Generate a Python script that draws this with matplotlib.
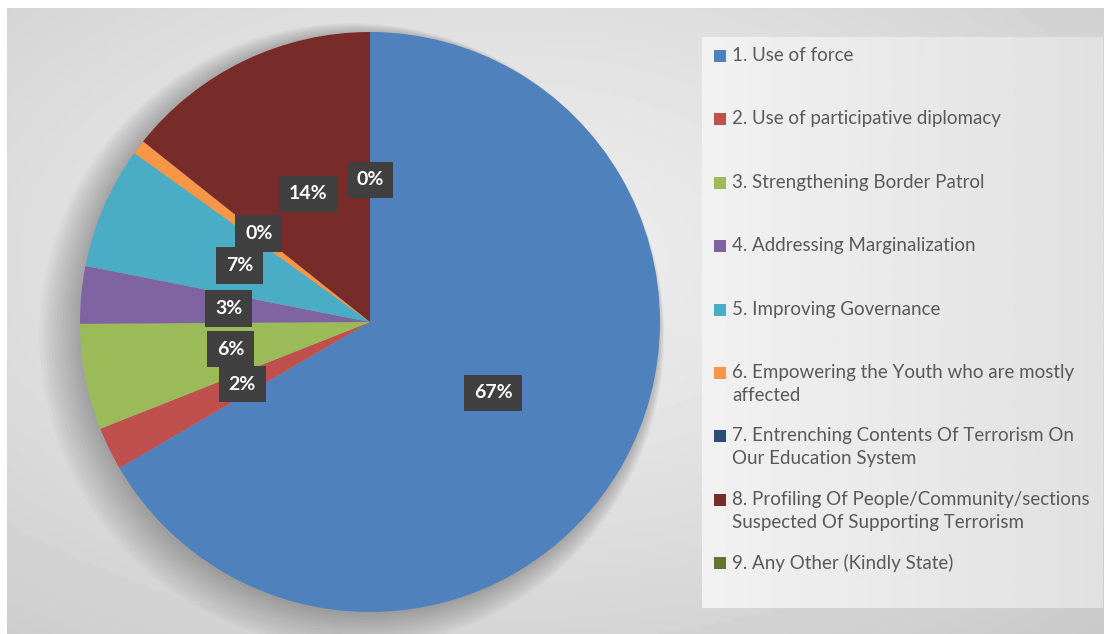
import numpy as np
import matplotlib.pyplot as plt
from matplotlib.patches import Rectangle, Circle

# 各选项所占百分比
categories = [
    '1. Use of force',
    '2. Use of participative diplomacy',
    '3. Strengthening Border Patrol',
    '4. Addressing Marginalization',
    '5. Improving Governance',
    '6. Empowering the Youth who are mostly\naffected',
    '7. Entrenching Contents Of Terrorism On\nOur Education System',
    '8. Profiling Of People/Community/sections\nSuspected Of Supporting Terrorism',
    '9. Any Other (Kindly State)',
]
values = [66.6, 2.4, 5.9, 3.2, 6.8, 0.8, 0.0, 14.3, 0.0]
colors = ['#4F81BD', '#C0504D', '#9BBB59', '#8064A2', '#4BACC6',
          '#F79646', '#2C4D75', '#772C2A', '#5F7530']
# 原图中被遮住的标签
hidden_labels = [5]

W, H = 1108, 634
plt.rcParams['font.family'] = ['Lato', 'DejaVu Sans']

fig = plt.figure(figsize=(W / 100, H / 100), dpi=100)
fig.patch.set_facecolor('white')


def px(x, y, w, h):
    # 像素坐标 -> figure 坐标
    return [x / W, 1 - (y + h) / H, w / W, h / H]


# 背景渐变（径向）
bg = fig.add_axes(px(7, 8, 1097, 626))
bg.set_axis_off()
yy, xx = np.mgrid[0:1:200j, 0:1:300j]
r = np.sqrt(((xx - 0.45) / 0.9) ** 2 + ((yy - 0.4) / 0.9) ** 2)
shade = 0.93 - 0.16 * np.clip(r, 0, 1) ** 1.3
bg.imshow(shade, cmap='gray', vmin=0, vmax=1, aspect='auto', extent=[0, 1, 0, 1])

# 图例背景
lg = fig.add_axes(px(702, 37, 401, 571))
lg.set_axis_off()
gx = np.linspace(0, 1, 200)[None, :]
lg.imshow(0.945 - 0.065 * gx, cmap='gray', vmin=0, vmax=1, aspect='auto', extent=[0, 1, 0, 1])

# 饼图
ax = fig.add_axes(px(80, 32, 580, 580))
ax.set_axis_off()

# 阴影
for i in range(14):
    ax.add_patch(Circle((-0.01 - 0.004 * i, -0.008 - 0.003 * i), 1.0 + 0.006 * i,
                        color='black', alpha=0.018, lw=0, zorder=0, clip_on=False))

wedges, texts, autotexts = ax.pie(values, colors=colors, startangle=90, counterclock=False,
                                  radius=1, autopct='%1.0f%%', pctdistance=0.49,
                                  wedgeprops=dict(linewidth=0),
                                  textprops=dict(color='white', fontsize=14, fontweight='bold'))
ax.set_xlim(-1, 1)
ax.set_ylim(-1, 1)
for i, t in enumerate(autotexts):
    t.set_bbox(dict(boxstyle='square,pad=0.5', fc='#404040', ec='none'))
    t.set_zorder(5)
    if i in hidden_labels:
        t.set_visible(False)

# 图例
step = 63.4
for i, (lab, c) in enumerate(zip(categories, colors)):
    yc = 56 + i * step
    fig.patches.append(Rectangle((714 / W, 1 - (yc + 6) / H), 12 / W, 12 / H,
                                 transform=fig.transFigure, fc=c, ec='none'))
    fig.text(732 / W, 1 - (yc - 9) / H, lab, fontsize=13.5, color='#595959',
             va='top', ha='left', linespacing=1.42)

fig.savefig('out.png', dpi=100)
